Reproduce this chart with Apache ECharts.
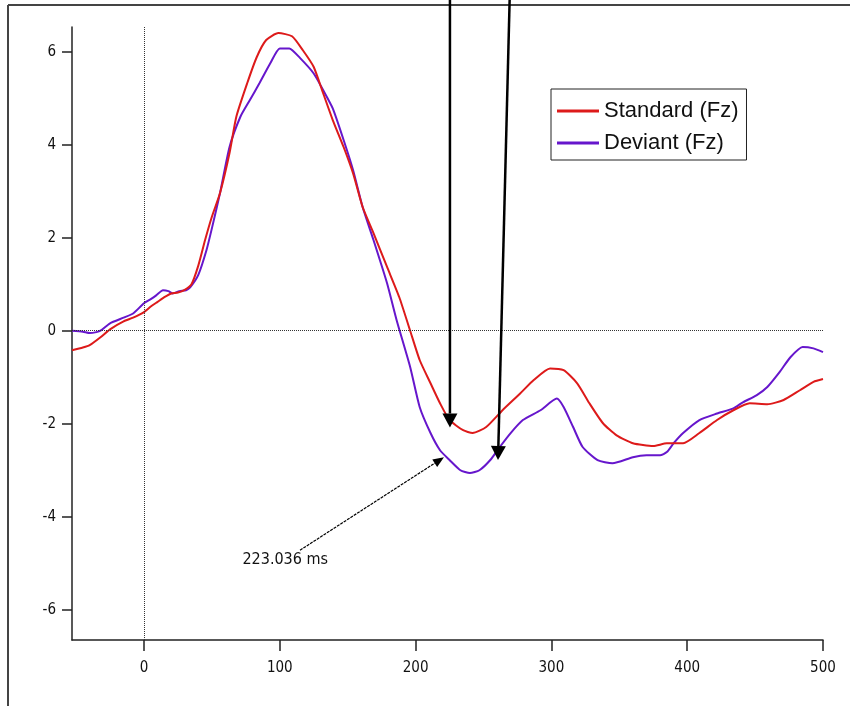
<!DOCTYPE html>
<html>
<head>
<meta charset="utf-8">
<script src="https://cdn.jsdelivr.net/npm/echarts@6/dist/echarts.min.js"></script>
<style>
html,body{margin:0;padding:0;background:#fff;}
#chart{width:850px;height:706px;}
</style>
</head>
<body>
<div id="chart"></div>
<script>
// ---- data ----
const stdTimes  = [-53,-45,-40,-32,-25,-15,-8,0,5,10,15,20,25,30,35,40,45,50,56,63,68,76,83,90,99,109,117,125,132,139,147,154,161,169,179,188,196,203,211,218,225,235,242,252,264,277,287,299,309,319,328,338,348,360,375,385,397,409,422,434,446,459,471,483,493,500];
const stdValues = [-0.42,-0.36,-0.31,-0.14,0.03,0.2,0.28,0.4,0.52,0.62,0.72,0.8,0.82,0.88,1.0,1.4,1.95,2.45,2.96,3.82,4.6,5.32,5.88,6.25,6.4,6.33,6.03,5.67,5.1,4.53,3.95,3.38,2.66,2.1,1.37,0.72,0.0,-0.63,-1.13,-1.56,-1.92,-2.14,-2.2,-2.07,-1.71,-1.35,-1.06,-0.81,-0.85,-1.13,-1.56,-1.99,-2.25,-2.42,-2.48,-2.42,-2.42,-2.2,-1.92,-1.71,-1.56,-1.58,-1.49,-1.28,-1.1,-1.04];
const devTimes  = [-53,-45,-40,-35,-32,-25,-15,-8,0,5,9,14,18,21,26,31,34,40,46,50,56,63,71,78,85,93,100,107,115,125,132,139,147,154,161,169,179,186,196,203,211,218,225,233,240,247,255,262,270,279,292,304,309,316,323,334,345,360,370,380,385,390,397,409,422,434,441,451,459,468,476,485,493,500];
const devValues = [0.0,-0.02,-0.05,-0.03,0.0,0.16,0.28,0.37,0.59,0.68,0.76,0.87,0.85,0.8,0.85,0.87,0.93,1.2,1.73,2.2,2.96,3.95,4.6,4.96,5.32,5.75,6.07,6.07,5.86,5.53,5.17,4.78,4.1,3.45,2.66,1.95,1.02,0.23,-0.78,-1.64,-2.2,-2.57,-2.78,-3.0,-3.06,-3.0,-2.78,-2.5,-2.2,-1.92,-1.71,-1.46,-1.64,-2.07,-2.5,-2.78,-2.85,-2.72,-2.68,-2.68,-2.61,-2.42,-2.2,-1.92,-1.78,-1.67,-1.54,-1.39,-1.21,-0.89,-0.57,-0.35,-0.38,-0.46];
const seriesNames = ['Standard (Fz)', 'Deviant (Fz)'];
const xTickValues = [0,100,200,300,400,500];
const yTickValues = [-6,-4,-2,0,2,4,6];
// annotation (data coordinates)
const annotationText = '223.036 ms';
const annotationTextAt = [104, -4.93];
const arrowStarts = [[225.3, 7.4], [269.5, 7.4], [114.9, -4.72]];
const arrowEnds   = [[225.3, -2.08], [260.7, -2.78], [220.9, -2.72]];

// ---- chart ----
const chart = echarts.init(document.getElementById('chart'), null, {renderer:'canvas'});
const zip = (a, b) => a.map((t, i) => [t, b[i]]);
const narrowFont = "'Liberation Sans Narrow','DejaVu Sans Condensed',sans-serif";
const tickFont = {fontFamily:narrowFont, fontSize:15, color:'#111'};
const axisLineStyle = {color:'#222', width:1.5};

chart.setOption({
  backgroundColor:'#fff',
  animation:false,
  grid:{left:72, right:27, top:27, bottom:66},
  legend:{
    orient:'vertical', left:551, top:89,
    data:seriesNames,
    icon:'rect', itemWidth:42, itemHeight:3, itemGap:8,
    padding:[10,8,5,6],
    borderColor:'#222', borderWidth:1, backgroundColor:'#fff',
    textStyle:{fontFamily:"'Liberation Sans',Arial,sans-serif", fontSize:22, lineHeight:24, color:'#111'}
  },
  xAxis:{
    type:'value', min:-53, max:500,
    axisLine:{show:true, onZero:false, lineStyle:axisLineStyle},
    axisTick:{show:true, length:11, customValues:xTickValues, lineStyle:axisLineStyle},
    axisLabel:{customValues:xTickValues, margin:21, ...tickFont},
    splitLine:{show:false}
  },
  yAxis:{
    type:'value', min:-6.65, max:6.53,
    axisLine:{show:true, onZero:false, lineStyle:axisLineStyle},
    axisTick:{show:true, length:10, customValues:yTickValues, lineStyle:axisLineStyle},
    axisLabel:{customValues:yTickValues, margin:16, ...tickFont},
    splitLine:{show:false}
  },
  series:[
    {
      name:seriesNames[0], type:'line', data:zip(stdTimes, stdValues),
      symbol:'none', smooth:0.2, color:'#dd1a1a',
      lineStyle:{width:2, color:'#dd1a1a'}, z:3,
      markLine:{
        silent:true, symbol:['none','none'], label:{show:false},
        lineStyle:{type:'dotted', color:'#333', width:1},
        data:[{xAxis:0},{yAxis:0}]
      }
    },
    {
      name:seriesNames[1], type:'line', data:zip(devTimes, devValues),
      symbol:'none', smooth:0.2, color:'#6616cc',
      lineStyle:{width:2, color:'#6616cc'}, z:2
    }
  ]
});

function arrow(from, to, lw, hl, hw, dash) {
  const a = chart.convertToPixel({gridIndex:0}, from);
  const b = chart.convertToPixel({gridIndex:0}, to);
  const dx = b[0]-a[0], dy = b[1]-a[1], L = Math.hypot(dx, dy);
  const ux = dx/L, uy = dy/L, nx = -uy, ny = ux;
  const bx = b[0]-ux*hl, by = b[1]-uy*hl;
  return [
    {type:'line', z:100, shape:{x1:a[0], y1:a[1], x2:bx, y2:by}, style:{stroke:'#000', lineWidth:lw, lineDash:dash}},
    {type:'polygon', z:100, shape:{points:[[b[0],b[1]],[bx+nx*hw/2,by+ny*hw/2],[bx-nx*hw/2,by-ny*hw/2]]}, style:{fill:'#000'}}
  ];
}

const tp = chart.convertToPixel({gridIndex:0}, annotationTextAt);
const graphics = [
  {type:'line', z:50, shape:{x1:8, y1:5, x2:850, y2:5}, style:{stroke:'#444', lineWidth:2}},
  {type:'line', z:50, shape:{x1:8, y1:5, x2:8, y2:706}, style:{stroke:'#444', lineWidth:2}},
  ...arrow(arrowStarts[0], arrowEnds[0], 2.5, 14, 15, null),
  ...arrow(arrowStarts[1], arrowEnds[1], 2.5, 14, 15, null),
  ...arrow(arrowStarts[2], arrowEnds[2], 1.2, 11, 9, [3,1]),
  {type:'text', z:100, x:tp[0], y:tp[1], style:{text:annotationText, fill:'#111', align:'center', verticalAlign:'middle',
    font:"16px " + narrowFont}}
];
chart.setOption({graphic:graphics});
</script>
</body>
</html>
